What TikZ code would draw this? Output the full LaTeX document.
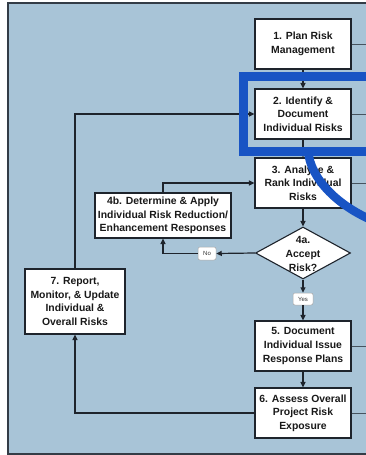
\documentclass[tikz,border=0pt]{standalone}
\usepackage{fontspec}
\setmainfont{Liberation Sans}
\usetikzlibrary{arrows.meta,shapes.geometric}
\definecolor{panel}{RGB}{168,196,215}
\definecolor{hilite}{RGB}{24,84,196}
\definecolor{ink}{RGB}{30,36,44}
\begin{document}
\begin{tikzpicture}[x=1pt,y=-1pt,
  proc/.style={draw=ink,fill=white,line width=1.1pt,font=\fontsize{10.4}{13.6}\selectfont\bfseries,text=black!90,align=center,inner sep=0pt},
  conn/.style={draw=ink,line width=1.2pt},
  arr/.style={conn,-{Triangle[length=5.5pt,width=5pt]}},
  stub/.style={draw=ink!70!panel,line width=0.9pt},
  tag/.style={draw=gray!70,fill=white,rounded corners=2pt,font=\fontsize{6}{7}\selectfont,text=black!80,inner sep=0pt,line width=0.5pt}]
\useasboundingbox (0,0) rectangle (366,455);
\fill[white] (0,0) rectangle (366,455);
\begin{scope}
\clip (0,0) rectangle (366,455);
\draw[fill=panel,draw=ink!85!panel,line width=1.2pt] (8,3) rectangle (380,454);
\coordinate (redge) at (372,0);
% process boxes
\node[proc,minimum width=96pt,minimum height=50pt] (b1) at (303,44) {1. Plan Risk\\Management};
\node[proc,minimum width=96pt,minimum height=50pt] (b2) at (303,114) {2. Identify \&\\Document\\Individual Risks};
\node[proc,minimum width=96pt,minimum height=50pt] (b3) at (303,183) {3. Analyze \&\\Rank Individual\\Risks};
\node[proc,shape=diamond,minimum width=95pt,minimum height=52pt] (d4) at (303,253) {};
\node[font=\fontsize{10.4}{13.6}\selectfont\bfseries,text=black!90,align=center,inner sep=0pt] (d4t) at (303,254) {4a.\\Accept\\Risk?};
\node[proc,minimum width=136pt,minimum height=45pt] (b4) at (163,215.5) {4b. Determine \& Apply\\Individual Risk Reduction/\\Enhancement Responses};
\node[proc,minimum width=96pt,minimum height=50pt] (b5) at (303,346) {5. Document\\Individual Issue\\Response Plans};
\node[proc,minimum width=96pt,minimum height=50pt] (b6) at (303,413) {6. Assess Overall\\Project Risk\\Exposure};
\node[proc,minimum width=100pt,minimum height=65pt] (b7) at (75,301.5) {7. Report,\\Monitor, \& Update\\Individual \&\\Overall Risks};
% labels
\node[tag,minimum width=18pt,minimum height=13pt] (no) at (207,253.5) {No};
\node[tag,minimum width=20pt,minimum height=12pt] (yes) at (303,299) {Yes};
% stubs to the right
\foreach \b in {b1,b2,b3,b5,b6} \draw[stub] (\b.east) -- (\b.east -| redge);
% connectors
\draw[arr] (b1.south) -- (b2.north);
\draw[arr] (b2.south) -- (b3.north);
\draw[arr] (b3.south) -- (d4.north);
\draw[arr] (d4.west) -- (no.east);
\draw[arr] (no.west) -| (b4.south);
\draw[arr] (b4.north) |- (b3.west);
\draw[arr] (d4.south) -- (yes.north);
\draw[arr] (yes.south) -- (b5.north);
\draw[arr] (b5.south) -- (b6.north);
\draw[arr] (b6.west) -| (b7.south);
\draw[arr] (b7.north) |- (b2.west);
% highlight
\draw[hilite,line width=8.5pt] (243.5,76.5) rectangle (390,151.5);
\draw[hilite,line width=8.5pt] (308,150) .. controls (310,180) and (340,207) .. (374,221);
\end{scope}
\end{tikzpicture}
\end{document}
